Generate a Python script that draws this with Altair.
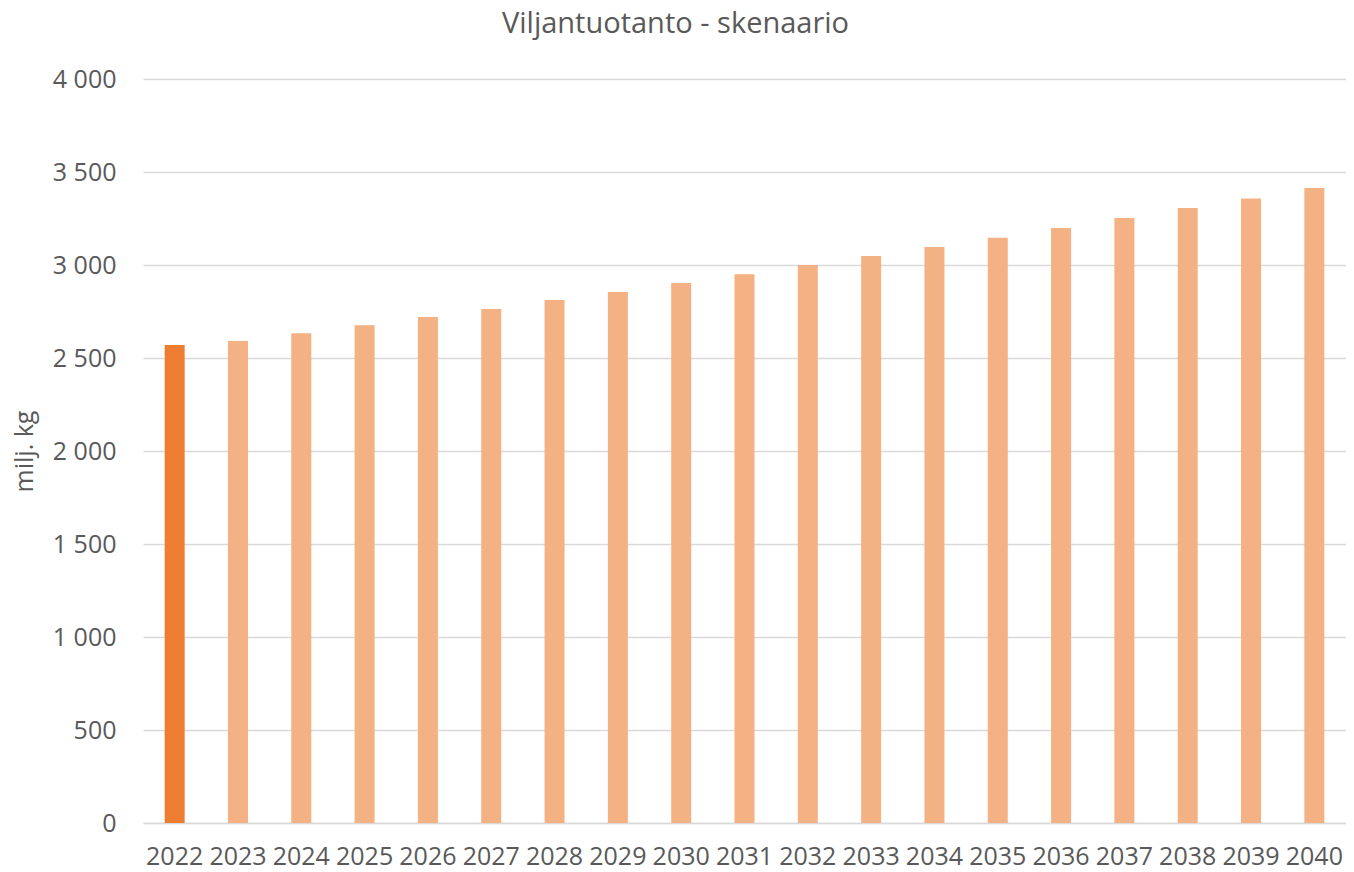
import altair as alt
import pandas as pd

years = [str(y) for y in range(2022, 2041)]
values = [2570, 2591, 2633, 2676, 2720, 2763, 2812, 2855, 2903, 2950,
          3000, 3048, 3097, 3147, 3199, 3253, 3306, 3358, 3414]
kind = ["actual"] + ["scenario"] * 18

df = pd.DataFrame({"year": years, "value": values, "kind": kind})

FONT = "Open Sans"
GREY = "#595959"

chart = alt.Chart(df).mark_bar(size=20).encode(
    x=alt.X("year:N", sort=years, title=None,
            scale=alt.Scale(paddingInner=0, paddingOuter=0),
            axis=alt.Axis(labelAngle=0, labelFontSize=25, labelColor=GREY,
                          labelFont=FONT, ticks=False, domain=True,
                          domainColor="#D9D9D9", domainWidth=1.5,
                          labelPadding=21, grid=False)),
    y=alt.Y("value:Q", title="milj. kg",
            scale=alt.Scale(domain=[0, 4000]),
            axis=alt.Axis(values=[0, 500, 1000, 1500, 2000, 2500, 3000, 3500, 4000],
                          labelExpr="replace(format(datum.value, ','), ',', ' ')",
                          labelFontSize=25, labelColor=GREY, labelFont=FONT,
                          ticks=False, domain=False, labelPadding=27,
                          gridColor="#D9D9D9", gridWidth=1.5,
                          titleFontSize=25, titleFont=FONT, titleColor=GREY,
                          titleFontWeight="normal", titlePadding=15)),
    color=alt.Color("kind:N", legend=None,
                    scale=alt.Scale(domain=["actual", "scenario"],
                                    range=["#ED7D31", "#F4B183"])),
).properties(
    width=1203, height=744,
    title=alt.TitleParams("Viljantuotanto - skenaario", fontSize=29,
                          font=FONT, color=GREY, fontWeight="normal",
                          anchor="middle", offset=28, dx=-69),
    autosize=alt.AutoSizeParams(type="none"),
    padding={"left": 135, "top": 71, "right": 0, "bottom": 49},
).configure_view(stroke=None)

chart.save("out.html", embed_options={"renderer": "svg", "actions": False})
